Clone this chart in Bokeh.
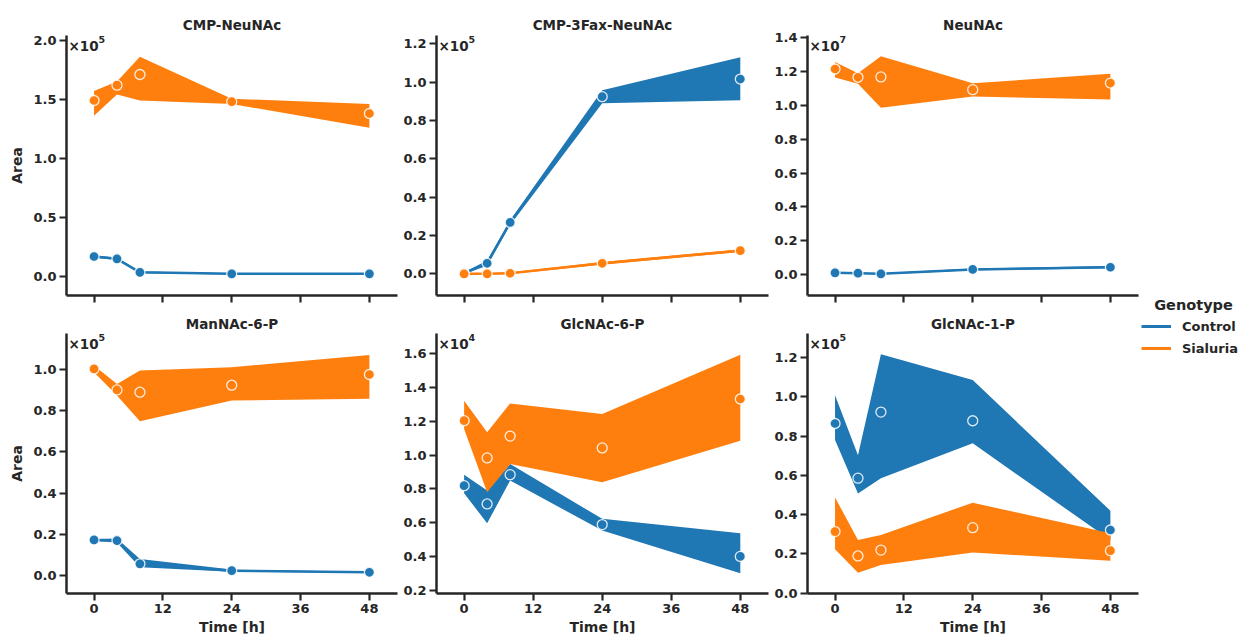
from bokeh.plotting import figure
from bokeh.layouts import row, column
from bokeh.models import (Range1d, FixedTicker, Label, Legend, LegendItem,
                          NumeralTickFormatter, ColumnDataSource,
                          CustomJSTickFormatter)
from bokeh.embed import file_html
from bokeh.resources import INLINE

# ---------------- data (values in units of 10^exponent) ----------------
time_h = [0, 4, 8, 24, 48]
genotypes = ["Control", "Sialuria"]
metabolites = ["CMP-NeuNAc", "CMP-3Fax-NeuNAc", "NeuNAc",
               "ManNAc-6-P", "GlcNAc-6-P", "GlcNAc-1-P"]
exponents = [5, 5, 7, 5, 4, 5]
x_ticks = [0, 12, 24, 36, 48]

# CMP-NeuNAc
cmp_neunac_ctrl_mean = [0.17, 0.15, 0.036, 0.023, 0.023]
cmp_neunac_ctrl_lo = [0.16, 0.14, 0.028, 0.017, 0.018]
cmp_neunac_ctrl_hi = [0.18, 0.16, 0.044, 0.029, 0.028]
cmp_neunac_sial_mean = [1.49, 1.62, 1.71, 1.48, 1.38]
cmp_neunac_sial_lo = [1.36, 1.54, 1.49, 1.46, 1.26]
cmp_neunac_sial_hi = [1.57, 1.65, 1.86, 1.505, 1.46]

# CMP-3Fax-NeuNAc
cmp3fax_ctrl_mean = [0.003, 0.055, 0.268, 0.924, 1.016]
cmp3fax_ctrl_lo = [0.0, 0.042, 0.255, 0.89, 0.905]
cmp3fax_ctrl_hi = [0.008, 0.07, 0.28, 0.957, 1.13]
cmp3fax_sial_mean = [0.0, 0.0, 0.003, 0.055, 0.121]
cmp3fax_sial_lo = [-0.004, -0.004, -0.001, 0.048, 0.114]
cmp3fax_sial_hi = [0.004, 0.004, 0.007, 0.062, 0.128]

# NeuNAc
neunac_ctrl_mean = [0.01, 0.008, 0.004, 0.03, 0.043]
neunac_ctrl_lo = [0.005, 0.004, 0.0, 0.025, 0.037]
neunac_ctrl_hi = [0.015, 0.012, 0.008, 0.035, 0.05]
neunac_sial_mean = [1.215, 1.166, 1.168, 1.093, 1.132]
neunac_sial_lo = [1.164, 1.128, 0.986, 1.053, 1.034]
neunac_sial_hi = [1.256, 1.19, 1.29, 1.13, 1.187]

# ManNAc-6-P
mannac6p_ctrl_mean = [0.173, 0.17, 0.057, 0.024, 0.016]
mannac6p_ctrl_lo = [0.168, 0.16, 0.04, 0.019, 0.013]
mannac6p_ctrl_hi = [0.178, 0.18, 0.081, 0.029, 0.019]
mannac6p_sial_mean = [1.003, 0.901, 0.89, 0.924, 0.976]
mannac6p_sial_lo = [0.987, 0.874, 0.749, 0.85, 0.858]
mannac6p_sial_hi = [1.02, 0.93, 0.995, 1.011, 1.071]

# GlcNAc-6-P
glcnac6p_ctrl_mean = [0.819, 0.711, 0.884, 0.589, 0.401]
glcnac6p_ctrl_lo = [0.774, 0.597, 0.849, 0.554, 0.302]
glcnac6p_ctrl_hi = [0.884, 0.79, 0.947, 0.623, 0.538]
glcnac6p_sial_mean = [1.203, 0.983, 1.112, 1.042, 1.331]
glcnac6p_sial_lo = [1.154, 0.78, 0.947, 0.839, 1.085]
glcnac6p_sial_hi = [1.321, 1.134, 1.305, 1.242, 1.592]

# GlcNAc-1-P
glcnac1p_ctrl_mean = [0.864, 0.586, 0.922, 0.878, 0.322]
glcnac1p_ctrl_lo = [0.78, 0.508, 0.585, 0.763, 0.271]
glcnac1p_ctrl_hi = [1.008, 0.703, 1.217, 1.085, 0.42]
glcnac1p_sial_mean = [0.314, 0.19, 0.22, 0.334, 0.217]
glcnac1p_sial_lo = [0.224, 0.105, 0.144, 0.208, 0.166]
glcnac1p_sial_hi = [0.488, 0.271, 0.297, 0.461, 0.305]

series = [
    ((cmp_neunac_ctrl_mean, cmp_neunac_ctrl_lo, cmp_neunac_ctrl_hi),
     (cmp_neunac_sial_mean, cmp_neunac_sial_lo, cmp_neunac_sial_hi)),
    ((cmp3fax_ctrl_mean, cmp3fax_ctrl_lo, cmp3fax_ctrl_hi),
     (cmp3fax_sial_mean, cmp3fax_sial_lo, cmp3fax_sial_hi)),
    ((neunac_ctrl_mean, neunac_ctrl_lo, neunac_ctrl_hi),
     (neunac_sial_mean, neunac_sial_lo, neunac_sial_hi)),
    ((mannac6p_ctrl_mean, mannac6p_ctrl_lo, mannac6p_ctrl_hi),
     (mannac6p_sial_mean, mannac6p_sial_lo, mannac6p_sial_hi)),
    ((glcnac6p_ctrl_mean, glcnac6p_ctrl_lo, glcnac6p_ctrl_hi),
     (glcnac6p_sial_mean, glcnac6p_sial_lo, glcnac6p_sial_hi)),
    ((glcnac1p_ctrl_mean, glcnac1p_ctrl_lo, glcnac1p_ctrl_hi),
     (glcnac1p_sial_mean, glcnac1p_sial_lo, glcnac1p_sial_hi)),
]

y_limits = [(-0.16, 2.04), (-0.113, 1.243), (-0.124, 1.413),
            (-0.087, 1.175), (0.182, 1.718), (-0.001, 1.322)]
y_tick_sets = [[0.0, 0.5, 1.0, 1.5, 2.0],
               [0.0, 0.2, 0.4, 0.6, 0.8, 1.0, 1.2],
               [0.0, 0.2, 0.4, 0.6, 0.8, 1.0, 1.2, 1.4],
               [0.0, 0.2, 0.4, 0.6, 0.8, 1.0],
               [0.2, 0.4, 0.6, 0.8, 1.0, 1.2, 1.4, 1.6],
               [0.0, 0.2, 0.4, 0.6, 0.8, 1.0, 1.2]]

# ---------------- style ----------------
FONT = "DejaVu Sans"
TXT = "#262626"
COLORS = ["#1f77b4", "#ff7f0e"]

X_START, X_END = -4.8, 52.9
FRAME_H = 260
col_frame_w = [331, 332, 332]
col_left = [66, 36, 35]
col_right = 3
row_top = [35, 24]
row_bottom = [14, 46]
title_standoff = [6, 4]


def make_panel(i):
    r, c = divmod(i, 3)
    ys, ye = y_limits[i]
    span = ye - ys
    fw = col_frame_w[c]
    p = figure(width=col_left[c] + fw + col_right,
               height=row_top[r] + FRAME_H + row_bottom[r],
               x_range=Range1d(X_START, X_END), y_range=Range1d(ys, ye),
               output_backend="svg", toolbar_location=None,
               title=metabolites[i],
               min_border_left=col_left[c], min_border_right=col_right,
               min_border_top=row_top[r], min_border_bottom=row_bottom[r])
    p.title.align = "center"
    p.title.text_font = FONT
    p.title.text_font_style = "bold"
    p.title.text_font_size = "13.5px"
    p.title.text_color = TXT
    p.title.standoff = title_standoff[r]
    p.title.offset = 0
    p.outline_line_color = None
    p.grid.visible = False
    for ax in (p.xaxis[0], p.yaxis[0]):
        ax.axis_line_color = TXT
        ax.axis_line_width = 2.5
        ax.major_tick_line_color = TXT
        ax.major_tick_line_width = 2.2
        ax.major_tick_out = 7
        ax.major_tick_in = 0
        ax.minor_tick_line_color = None
        ax.major_label_text_font = FONT
        ax.major_label_text_font_style = "bold"
        ax.major_label_text_font_size = "13px"
        ax.major_label_text_color = TXT
    p.xaxis.ticker = FixedTicker(ticks=x_ticks)
    p.yaxis.ticker = FixedTicker(ticks=y_tick_sets[i])
    p.yaxis.formatter = NumeralTickFormatter(format="0.0")
    p.yaxis.major_label_standoff = 3
    p.xaxis.major_label_standoff = 3
    if r == 0:
        p.xaxis.formatter = CustomJSTickFormatter(code="return ''")
        p.xaxis.major_label_text_font_size = "0px"
        p.xaxis.major_label_standoff = 0
    else:
        p.xaxis.axis_label = "Time [h]"
        p.xaxis.axis_label_text_font = FONT
        p.xaxis.axis_label_text_font_style = "bold"
        p.xaxis.axis_label_text_font_size = "14px"
        p.xaxis.axis_label_text_color = TXT
        p.xaxis.axis_label_standoff = 3
    if c == 0:
        p.yaxis.axis_label = "Area"
        p.yaxis.axis_label_text_font = FONT
        p.yaxis.axis_label_text_font_style = "bold"
        p.yaxis.axis_label_text_font_size = "14px"
        p.yaxis.axis_label_text_color = TXT
        p.yaxis.axis_label_standoff = 5

    # bands first, then lines and markers
    srcs = []
    for g in range(2):
        mean, lo, hi = series[i][g]
        src = ColumnDataSource(dict(t=time_h, m=mean, lo=lo, hi=hi))
        srcs.append(src)
        p.varea(x="t", y1="lo", y2="hi", source=src, fill_color=COLORS[g],
                fill_alpha=1.0)
    for g in range(2):
        p.line(x="t", y="m", source=srcs[g], line_color=COLORS[g],
               line_width=2.5)
    for g in range(2):
        p.scatter(x="t", y="m", source=srcs[g], size=10,
                  fill_color=COLORS[g], line_color="white", line_width=1.3,
                  line_alpha=0.85)

    xspan = X_END - X_START
    # offset text (scale factor): "×10" plus superscript exponent
    p.add_layout(Label(x=X_START + 2 * xspan / fw,
                       y=ye - 10 * span / FRAME_H,
                       text="\u00d710",
                       text_font=FONT, text_font_style="bold",
                       text_font_size="13.5px", text_color=TXT,
                       text_align="left", text_baseline="alphabetic"))
    p.add_layout(Label(x=X_START + 32 * xspan / fw,
                       y=ye - 4 * span / FRAME_H,
                       text=str(exponents[i]),
                       text_font=FONT, text_font_style="bold",
                       text_font_size="9.5px", text_color=TXT,
                       text_align="left", text_baseline="alphabetic"))
    return p


panels = [make_panel(i) for i in range(6)]

# legend figure (right side)
LEG_W, LEG_H = 101, 639
leg = figure(width=LEG_W, height=LEG_H, output_backend="svg",
             toolbar_location=None, title=None, min_border=0,
             x_range=Range1d(0, 1), y_range=Range1d(0, 1),
             x_axis_type=None, y_axis_type=None)
leg.outline_line_color = None
leg.grid.visible = False
rends = [leg.line(x=[-2, -1], y=[-2, -1], line_color=COLORS[g], line_width=3)
         for g in range(2)]
legend = Legend(items=[LegendItem(label=genotypes[g], renderers=[rends[g]])
                       for g in range(2)],
                location=(0, 281),
                label_text_font=FONT, label_text_font_style="bold",
                label_text_font_size="13px", label_text_color=TXT,
                glyph_width=30, glyph_height=20, label_height=20,
                label_standoff=11, spacing=2, padding=5, margin=0,
                border_line_color=None, background_fill_alpha=0)
leg.add_layout(legend)
leg.add_layout(Label(x=52 / LEG_W, y=(LEG_H - 304) / LEG_H, text="Genotype",
                     text_font=FONT, text_font_style="bold",
                     text_font_size="14.5px", text_color=TXT,
                     text_align="center", text_baseline="middle"))

layout = row(column(row(*panels[:3]), row(*panels[3:])), leg)

open("out.html", "w").write(file_html(layout, INLINE))
